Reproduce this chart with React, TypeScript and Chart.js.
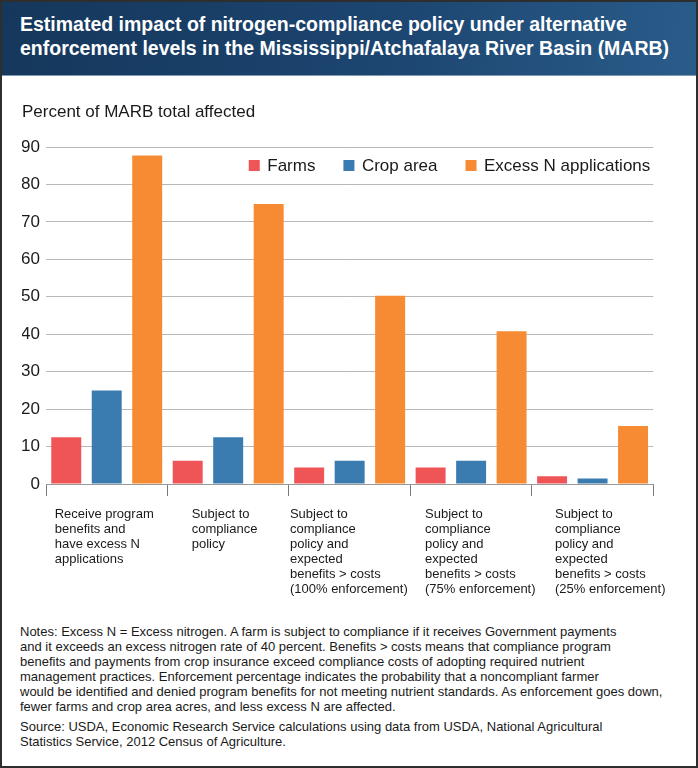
import React, { useEffect, useRef } from "react";
import { Chart, registerables } from "chart.js";

Chart.register(...registerables);

// ---- data ----
const categories: string[][] = [
  ["Receive program", "benefits and", "have excess N", "applications"],
  ["Subject to", "compliance", "policy"],
  ["Subject to", "compliance", "policy and", "expected", "benefits > costs", "(100% enforcement)"],
  ["Subject to", "compliance", "policy and", "expected", "benefits > costs", "(75% enforcement)"],
  ["Subject to", "compliance", "policy and", "expected", "benefits > costs", "(25% enforcement)"],
];
const seriesNames = ["Farms", "Crop area", "Excess N applications"];
const farms = [12.5, 6.2, 4.4, 4.4, 2.1];
const cropArea = [25.0, 12.5, 6.2, 6.2, 1.5];
const excessN = [87.7, 74.8, 50.3, 40.8, 15.5];
const yMin = 0;
const yMax = 90;
const yStep = 10;

const titleLines = [
  "Estimated impact of nitrogen-compliance policy under alternative",
  "enforcement levels in the Mississippi/Atchafalaya River Basin (MARB)",
];
const yAxisTitle = "Percent of MARB total affected";
const noteLines = [
  "Notes: Excess N = Excess nitrogen. A farm is subject to compliance if it receives Government payments",
  "and it exceeds an excess nitrogen rate of 40 percent. Benefits > costs means that compliance program",
  "benefits and payments from crop insurance exceed compliance costs of adopting required nutrient",
  "management practices. Enforcement percentage indicates the probability that a noncompliant farmer",
  "would be identified and denied program benefits for not meeting nutrient standards. As enforcement goes down,",
  "fewer farms and crop area acres, and less excess N are affected.",
];
const sourceLines = [
  "Source: USDA, Economic Research Service calculations using data from USDA, National Agricultural",
  "Statistics Service, 2012 Census of Agriculture.",
];

// ---- style constants ----
const COLORS = ["#EF5557", "#3B7CB0", "#F68B33"];
const FONT = '"Liberation Sans", Arial, Helvetica, sans-serif';
const labelShift = [-52, -36.5, -59.7, -46.1, -37.6];
const X_TICK_LEN = 12;
const X_TICK_PAD = 11;
const X_LINE_H = 15;

const insideLegend = {
  id: "insideLegend",
  afterDatasetsDraw(chart: any) {
    const { ctx, chartArea } = chart;
    ctx.save();
    ctx.font = `17px ${FONT}`;
    const box = 11;
    const gap = 7.5;
    const spacing = 28;
    const items = chart.data.datasets.map((ds: any) => ({
      label: ds.label as string,
      color: ds.backgroundColor as string,
      w: ctx.measureText(ds.label).width,
    }));
    const total =
      items.reduce((s: number, it: any) => s + box + gap + it.w, 0) +
      spacing * (items.length - 1);
    let x = chartArea.right - 3 - total;
    const y = chartArea.top + 18.5;
    ctx.textBaseline = "middle";
    ctx.textAlign = "left";
    for (const it of items) {
      ctx.fillStyle = it.color;
      ctx.fillRect(x, y - box / 2, box, box);
      ctx.fillStyle = "#1a1a1a";
      ctx.fillText(it.label, x + box + gap, y + 0.5);
      x += box + gap + it.w + spacing;
    }
    ctx.restore();
  },
};

const blockLabels = {
  id: "blockLabels",
  afterDraw(chart: any) {
    const { ctx } = chart;
    const xs = chart.scales.x;
    ctx.save();
    ctx.font = `13px ${FONT}`;
    ctx.fillStyle = "#1a1a1a";
    ctx.textBaseline = "middle";
    ctx.textAlign = "left";
    (chart.data.labels as string[][]).forEach((lines, i) => {
      const x = xs.getPixelForValue(i) + (labelShift[i] ?? 0);
      lines.forEach((line, j) => {
        ctx.fillText(line, x, xs.top + X_TICK_LEN + X_TICK_PAD + X_LINE_H / 2 + X_LINE_H * j);
      });
    });
    ctx.restore();
  },
};

function ChartCanvas() {
  const ref = useRef<HTMLCanvasElement | null>(null);
  useEffect(() => {
    if (!ref.current) return;
    const chart = new Chart(ref.current, {
      type: "bar",
      data: {
        labels: categories,
        datasets: [
          { label: seriesNames[0], data: farms, backgroundColor: COLORS[0] },
          { label: seriesNames[1], data: cropArea, backgroundColor: COLORS[1] },
          { label: seriesNames[2], data: excessN, backgroundColor: COLORS[2] },
        ],
      },
      options: {
        responsive: false,
        animation: false,
        devicePixelRatio: 1,
        layout: { padding: { left: 22, right: 44.7, top: 0, bottom: 9 } },
        datasets: {
          bar: {
            categoryPercentage: 1,
            barPercentage: 0.74,
            borderWidth: 0,
          },
        },
        plugins: {
          legend: { display: false },
          tooltip: { enabled: false },
          title: {
            display: true,
            text: yAxisTitle,
            align: "start",
            color: "#1a1a1a",
            font: { family: FONT, size: 17, weight: "normal", lineHeight: 1.2 },
            padding: { top: 26, bottom: 24.6 },
          },
        },
        scales: {
          x: {
            type: "category",
            offset: true,
            grid: {
              display: true,
              drawOnChartArea: false,
              drawTicks: true,
              tickLength: X_TICK_LEN,
              color: "#7a7a7a",
              lineWidth: 1,
              offset: true,
            },
            border: { display: true, color: "#9a9a9a", width: 1 },
            ticks: {
              autoSkip: false,
              maxRotation: 0,
              minRotation: 0,
              padding: X_TICK_PAD,
              color: "rgba(0,0,0,0)",
              font: { family: FONT, size: 13, lineHeight: X_LINE_H / 13 },
            },
            afterFit: (scale: any) => {
              scale.paddingLeft = 0;
              scale.paddingRight = 0;
              scale.height = X_TICK_LEN + X_TICK_PAD + X_LINE_H * 6;
            },
          },
          y: {
            min: yMin,
            max: yMax,
            grid: { color: "#b8b8b8", lineWidth: 1, drawTicks: false },
            border: { display: false },
            ticks: {
              stepSize: yStep,
              padding: 6,
              color: "#1a1a1a",
              font: { family: FONT, size: 17 },
            },
            afterFit: (scale: any) => {
              scale.width = 24;
            },
          },
        },
      },
      plugins: [insideLegend, blockLabels],
    } as any);
    return () => chart.destroy();
  }, []);
  return (
    <canvas
      ref={ref}
      width={698}
      height={530}
      style={{ position: "absolute", left: 0, top: 76, width: 698, height: 530 }}
    />
  );
}

export default function App() {
  return (
    <div
      style={{
        position: "fixed",
        left: 0,
        top: 0,
        width: 698,
        height: 768,
        background: "#ffffff",
        fontFamily: FONT,
        overflow: "hidden",
      }}
    >
      <div
        style={{
          position: "absolute",
          left: 0,
          top: 0,
          width: 698,
          height: 76,
          boxSizing: "border-box",
          background: "linear-gradient(100deg, #15375b 0%, #1c4570 55%, #2a5c8a 100%)",
          borderBottom: "1px solid #7f9ab6",
          paddingLeft: 20,
          paddingTop: 13,
          color: "#ffffff",
          fontWeight: "bold",
          fontSize: 19.5,
          lineHeight: "23.5px",
          whiteSpace: "nowrap",
        }}
      >
        {titleLines.map((t, i) => (
          <div key={i}>{t}</div>
        ))}
      </div>
      <ChartCanvas />
      <div
        style={{
          position: "absolute",
          left: 20,
          top: 623.5,
          fontSize: 13,
          lineHeight: "15px",
          color: "#1a1a1a",
          whiteSpace: "nowrap",
        }}
      >
        {noteLines.map((t, i) => (
          <div key={i}>{t}</div>
        ))}
        <div style={{ marginTop: 5 }}>
          {sourceLines.map((t, i) => (
            <div key={i}>{t}</div>
          ))}
        </div>
      </div>
      <div
        style={{
          position: "absolute",
          left: 0,
          top: 0,
          width: 698,
          height: 768,
          boxSizing: "border-box",
          border: "2px solid #2e2e2e",
          pointerEvents: "none",
        }}
      />
    </div>
  );
}
